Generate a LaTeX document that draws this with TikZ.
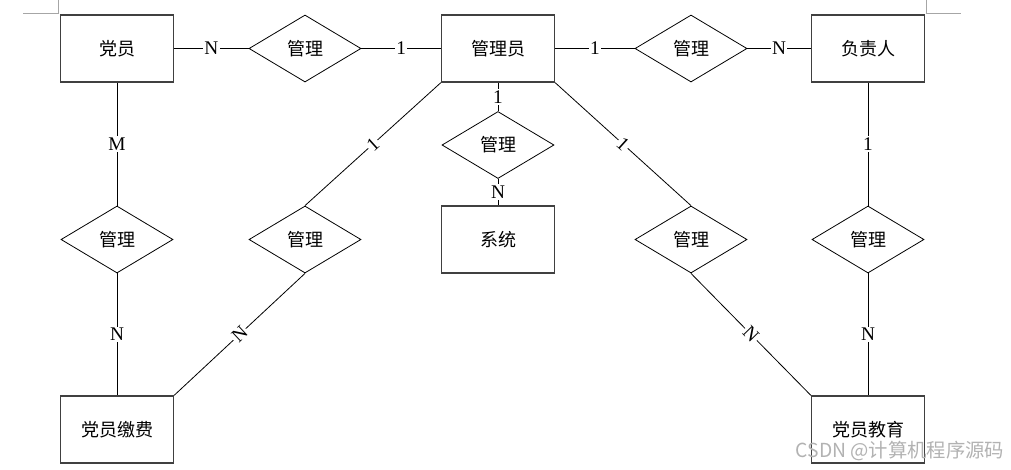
\documentclass[tikz,border=0pt]{standalone}
\usepackage{fontspec}
\setmainfont{Liberation Serif}
\newfontfamily\cjk{Noto Sans CJK SC}
\usetikzlibrary{shapes.geometric}

\tikzset{
  entity/.style={draw=black!75, line width=1pt, minimum width=84.75pt, minimum height=50.25pt, inner sep=0pt, font=\cjk\fontsize{13.5}{16}\selectfont},
  relation/.style={draw, diamond, line width=0.6pt, minimum width=84pt, minimum height=50.25pt, inner sep=0pt, font=\cjk\fontsize{13.5}{16}\selectfont},
  card/.style={fill=white, inner sep=1pt, font=\fontsize{14.5}{16}\selectfont},
  link/.style={line width=0.6pt}
}

\begin{document}
\begin{tikzpicture}[x=0.75pt,y=-0.75pt]
\useasboundingbox (0,0) rectangle (1011,469);
% page corner marks
\draw[black!35, line width=0.6pt] (23,13) -- (58,13) -- (58,0);
\draw[black!35, line width=0.6pt] (926,0) -- (926,13) -- (961,13);

% entities
\node[entity] (member) at (117,48.5) {党员};
\node[entity] (admin) at (498,48.5) {管理员};
\node[entity] (leader) at (868,48.5) {负责人};
\node[entity] (system) at (498,239.5) {系统};
\node[entity] (fee) at (117,429.5) {党员缴费};
\node[entity] (edu) at (868,429.5) {党员教育};

% relations
\node[relation] (r_ma) at (305,48.5) {管理};
\node[relation] (r_al) at (691,48.5) {管理};
\node[relation] (r_as) at (498,145) {管理};
\node[relation] (r_mf) at (117,239.5) {管理};
\node[relation] (r_af) at (305,239.5) {管理};
\node[relation] (r_ae) at (691,239.5) {管理};
\node[relation] (r_le) at (868,239.5) {管理};

% top row
\draw[link] (member.east) -- node[card]{N} (r_ma.west);
\draw[link] (r_ma.east) -- node[card]{1} (admin.west);
\draw[link] (admin.east) -- node[card]{1} (r_al.west);
\draw[link] (r_al.east) -- node[card]{N} (leader.west);

% middle
\draw[link] (admin.south) -- node[card]{1} (r_as.north);
\draw[link] (r_as.south) -- node[card]{N} (system.north);

% left side
\draw[link] (member.south) -- node[card]{M} (r_mf.north);
\draw[link] (r_mf.south) -- node[card]{N} (fee.north);
\draw[link] (admin.south west) -- node[card, sloped]{1} (r_af.north);
\draw[link] (r_af.south) -- node[card, sloped]{N} (fee.north east);

% right side
\draw[link] (admin.south east) -- node[card, sloped]{1} (r_ae.north);
\draw[link] (r_ae.south) -- node[card, sloped]{N} (edu.north west);
\draw[link] (leader.south) -- node[card]{1} (r_le.north);
\draw[link] (r_le.south) -- node[card]{N} (edu.north);

% watermark
\node[black!30, font=\cjk\fontsize{14.5}{16}\selectfont] (mark) at (900,451) {CSDN @计算机程序源码};
\end{tikzpicture}
\end{document}
